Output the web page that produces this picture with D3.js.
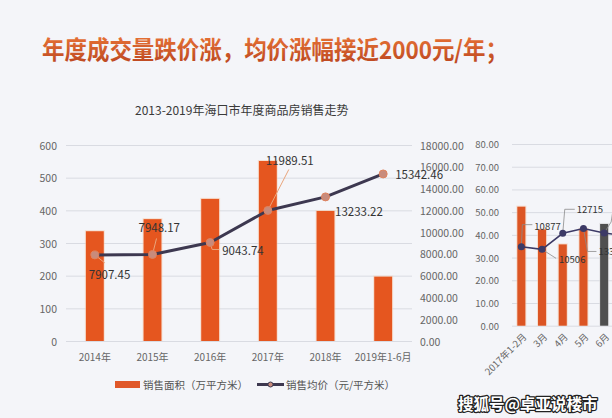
<!DOCTYPE html>
<html>
<head>
<meta charset="utf-8">
<script src="https://cdn.jsdelivr.net/npm/d3@7/dist/d3.min.js"></script>
<style>
  html, body { margin: 0; padding: 0; background: #f4f5f9; }
  svg { display: block; font-family: "Noto Sans CJK SC", "Noto Sans", sans-serif; }
</style>
</head>
<body>
<svg id="chart" width="612" height="418"></svg>
<script>
// main chart data
const years = ["2014年", "2015年", "2016年", "2017年", "2018年", "2019年1-6月"];
const saleArea = [336, 373, 435, 551, 398, 197];
const avgPrice = [7907.45, 7948.17, 9043.74, 11989.51, 13233.22, 15342.46];
const areaTicks = [0, 100, 200, 300, 400, 500, 600];
const priceTicks = [0, 2000, 4000, 6000, 8000, 10000, 12000, 14000, 16000, 18000];

// monthly chart (cut off at the right edge)
const months = ["2017年1-2月", "3月", "4月", "5月", "6月", "7月"];
const monthArea = [52.4, 42.4, 35.8, 42.6, 44.8, 40.0];
const monthPrice = [10877, 10506, 12715, 13380, 12760, 12350];
const monthTicks = [0, 10, 20, 30, 40, 50, 60, 70, 80];

// label placement: leader polyline offsets from the point, text offset
const priceLabelLayout = [
  { leader: [[0, 0], [10, 8]], text: [-6, 19] },
  { leader: [[0, 0], [4, -16]], text: [-14, -27] },
  { leader: [[0, 0], [2, 7], [9, 7]], text: [12, 7.5] },
  { leader: [[0, 0], [21, -41]], text: [-2, -50] },
  { leader: null, text: [9.5, 14] },
  { leader: null, text: [12, 0] },
];
const monthLabelLayout = [
  { leader: [[0, 0], [1, -22], [11, -22]], text: [13, -21] },
  { leader: [[0, 0], [14, 9]], text: [17, 10] },
  { leader: [[0, 0], [2, -24], [12, -24]], text: [14, -24] },
  { leader: [[0, 0], [4, 23], [13, 23]], text: [15, 23] },
  { leader: [[0, 0], [7, -11], [10, -30]], text: [14, -30] },
  { leader: null, text: [10, 0] },
];

const svg = d3.select("#chart");
const fmt2 = d3.format(".2f");

const defs = svg.append("defs");
const grad = defs.append("linearGradient").attr("id", "titleGrad")
  .attr("x1", 0).attr("y1", 0).attr("x2", 0).attr("y2", 1);
grad.append("stop").attr("offset", "0%").attr("stop-color", "#ef7a3a");
grad.append("stop").attr("offset", "100%").attr("stop-color", "#b9441f");

// headline
svg.append("text")
  .attr("x", 42).attr("y", 48)
  .attr("dominant-baseline", "central")
  .attr("font-size", 24.5).attr("font-weight", 700)
  .attr("fill", "url(#titleGrad)")
  .attr("textLength", 466).attr("lengthAdjust", "spacingAndGlyphs")
  .text("年度成交量跌价涨，均价涨幅接近2000元/年；");

svg.append("text")
  .attr("x", 135).attr("y", 109)
  .attr("dominant-baseline", "central")
  .attr("font-size", 12).attr("fill", "#3a3a3a")
  .text("2013-2019年海口市年度商品房销售走势");

// ---- main chart ----
const plot = { left: 66, right: 412, top: 145, bottom: 341 };

const x = d3.scaleBand().domain(years)
  .range([plot.left, plot.right])
  .paddingInner(0.69).paddingOuter(0.345);
const yArea = d3.scaleLinear().domain([0, 600]).range([plot.bottom, plot.top]);
const yPrice = d3.scaleLinear().domain([0, 18000]).range([plot.bottom, plot.top]);

const main = svg.append("g");

main.append("g").selectAll("line").data(areaTicks).join("line")
  .attr("x1", plot.left).attr("x2", plot.right)
  .attr("y1", (d) => yArea(d) + 0.5).attr("y2", (d) => yArea(d) + 0.5)
  .attr("stroke", "#d9dbe2").attr("stroke-width", 1);

main.append("g").selectAll("text").data(areaTicks).join("text")
  .attr("x", 57).attr("y", (d) => yArea(d))
  .attr("text-anchor", "end").attr("dominant-baseline", "central")
  .attr("font-size", 10.5).attr("fill", "#666")
  .text((d) => d);

main.append("g").selectAll("text").data(priceTicks).join("text")
  .attr("x", 420).attr("y", (d) => yPrice(d))
  .attr("dominant-baseline", "central")
  .attr("font-size", 10.5).attr("fill", "#666")
  .text((d) => fmt2(d));

main.append("g").selectAll("text").data(years).join("text")
  .attr("x", (d) => x(d) + x.bandwidth() / 2).attr("y", 356)
  .attr("text-anchor", "middle").attr("dominant-baseline", "central")
  .attr("font-size", 10).attr("fill", "#666")
  .text((d) => d);

// bars with a soft halo
main.append("g").selectAll("rect").data(saleArea).join("rect")
  .attr("x", (d, i) => x(years[i]) - 1)
  .attr("y", (d) => yArea(d) - 1)
  .attr("width", x.bandwidth() + 2)
  .attr("height", (d) => plot.bottom - yArea(d) + 1)
  .attr("fill", "#f8c9aa").attr("opacity", 0.5);
main.append("g").selectAll("rect").data(saleArea).join("rect")
  .attr("x", (d, i) => x(years[i]))
  .attr("y", (d) => yArea(d))
  .attr("width", x.bandwidth())
  .attr("height", (d) => plot.bottom - yArea(d))
  .attr("fill", "#e5561f");

const pricePts = avgPrice.map((v, i) => [x(years[i]) + x.bandwidth() / 2, yPrice(v)]);

main.append("path")
  .attr("d", d3.line()(pricePts))
  .attr("fill", "none").attr("stroke", "#3d3850").attr("stroke-width", 3)
  .attr("stroke-linejoin", "round");

// leader lines
main.append("g").selectAll("path").data(pricePts).join("path")
  .attr("d", (p, i) => {
    const l = priceLabelLayout[i].leader;
    return l ? d3.line()(l.map((o) => [p[0] + o[0], p[1] + o[1]])) : null;
  })
  .attr("fill", "none").attr("stroke", "#e9a57c").attr("stroke-width", 1);

main.append("g").selectAll("circle").data(pricePts).join("circle")
  .attr("cx", (p) => p[0]).attr("cy", (p) => p[1]).attr("r", 4)
  .attr("fill", "#c88b7c").attr("stroke", "#e0835e").attr("stroke-width", 1);

main.append("g").selectAll("text").data(pricePts).join("text")
  .attr("x", (p, i) => p[0] + priceLabelLayout[i].text[0])
  .attr("y", (p, i) => p[1] + priceLabelLayout[i].text[1])
  .attr("dominant-baseline", "central")
  .attr("font-size", 11.5).attr("fill", "#333")
  .text((p, i) => fmt2(avgPrice[i]));

// legend
const legend = svg.append("g");
legend.append("rect").attr("x", 115).attr("y", 381).attr("width", 25).attr("height", 7)
  .attr("fill", "#e0582a");
legend.append("text").attr("x", 143).attr("y", 384.5).attr("dominant-baseline", "central")
  .attr("font-size", 10.5).attr("fill", "#555").text("销售面积（万平方米）");
legend.append("line").attr("x1", 257).attr("x2", 284).attr("y1", 384.5).attr("y2", 384.5)
  .attr("stroke", "#3d3850").attr("stroke-width", 3);
legend.append("circle").attr("cx", 270.5).attr("cy", 384.5).attr("r", 2.5)
  .attr("fill", "#c88b7c").attr("stroke", "#3d3850").attr("stroke-width", 1);
legend.append("text").attr("x", 286).attr("y", 384.5).attr("dominant-baseline", "central")
  .attr("font-size", 10.5).attr("fill", "#555").text("销售均价（元/平方米）");

// ---- monthly chart ----
const mPlot = { left: 511, top: 144, bottom: 325.7 };
const mx = d3.scaleBand().domain(months)
  .range([mPlot.left, mPlot.left + 20.7 * months.length])
  .paddingInner(0.61).paddingOuter(0.305);
const myArea = d3.scaleLinear().domain([0, 80]).range([mPlot.bottom, mPlot.top]);
const myPrice = d3.scaleLinear().domain([0, 25000]).range([mPlot.bottom, mPlot.top]);

const side = svg.append("g");

side.append("g").selectAll("line").data(monthTicks).join("line")
  .attr("x1", mPlot.left + 1).attr("x2", 612)
  .attr("y1", (d) => myArea(d) + 0.5).attr("y2", (d) => myArea(d) + 0.5)
  .attr("stroke", "#d9dbe2");

side.append("g").selectAll("text").data(monthTicks).join("text")
  .attr("x", 499).attr("y", (d) => myArea(d))
  .attr("text-anchor", "end").attr("dominant-baseline", "central")
  .attr("font-size", 9.5).attr("fill", "#666")
  .text((d) => fmt2(d));

side.append("g").selectAll("text").data(months).join("text")
  .attr("transform", (d) => `translate(${mx(d) + mx.bandwidth() / 2 + 3},${mPlot.bottom + 9}) rotate(-45)`)
  .attr("text-anchor", "end").attr("dominant-baseline", "central")
  .attr("font-size", 9.5).attr("fill", "#666")
  .text((d) => d);

side.append("g").selectAll("rect").data(monthArea).join("rect")
  .attr("x", (d, i) => mx(months[i]) - 1)
  .attr("y", (d) => myArea(d) - 1)
  .attr("width", mx.bandwidth() + 2)
  .attr("height", (d) => mPlot.bottom - myArea(d) + 1)
  .attr("fill", (d, i) => (i === 4 ? "#d8d8d8" : "#f8c9aa")).attr("opacity", 0.5);
side.append("g").selectAll("rect").data(monthArea).join("rect")
  .attr("x", (d, i) => mx(months[i]))
  .attr("y", (d) => myArea(d))
  .attr("width", mx.bandwidth())
  .attr("height", (d) => mPlot.bottom - myArea(d))
  .attr("fill", (d, i) => (i === 4 ? "#4f4f4f" : "#dc5524"));

const monthPts = monthPrice.map((v, i) => [mx(months[i]) + mx.bandwidth() / 2, myPrice(v)]);

side.append("path")
  .attr("d", d3.line()(monthPts))
  .attr("fill", "none").attr("stroke", "#3c3a66").attr("stroke-width", 1.5);

side.append("g").selectAll("path").data(monthPts).join("path")
  .attr("d", (p, i) => {
    const l = monthLabelLayout[i].leader;
    return l ? d3.line()(l.map((o) => [p[0] + o[0], p[1] + o[1]])) : null;
  })
  .attr("fill", "none").attr("stroke", "#8a8a8a").attr("stroke-width", 0.8);

side.append("g").selectAll("circle").data(monthPts).join("circle")
  .attr("cx", (p) => p[0]).attr("cy", (p) => p[1]).attr("r", 3.5)
  .attr("fill", "#3c3a66");

side.append("g").selectAll("text").data(monthPts).join("text")
  .attr("x", (p, i) => p[0] + monthLabelLayout[i].text[0])
  .attr("y", (p, i) => p[1] + monthLabelLayout[i].text[1])
  .attr("dominant-baseline", "central")
  .attr("font-size", 9.5).attr("fill", "#333")
  .text((p, i) => monthPrice[i]);

// watermark
svg.append("text")
  .attr("x", 458).attr("y", 403)
  .attr("dominant-baseline", "central")
  .attr("font-size", 15.5).attr("font-weight", 700)
  .attr("fill", "#fff").attr("stroke", "#222").attr("stroke-width", 2.5)
  .attr("paint-order", "stroke").attr("stroke-linejoin", "round")
  .text("搜狐号@卓亚说楼市");
</script>
</body>
</html>
